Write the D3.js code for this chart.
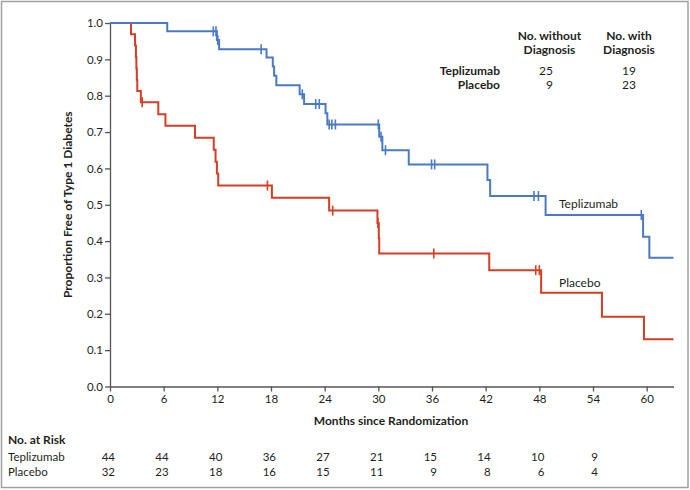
<!DOCTYPE html>
<html><head><meta charset="utf-8">
<script src="https://cdn.jsdelivr.net/npm/d3@7"></script>
<style>body{margin:0;background:#fff}svg{display:block;font-family:Lato,"Open Sans",sans-serif}</style>
</head><body>
<svg id="c" width="690" height="490"></svg>
<script>
// Data
const xTicks = [0,6,12,18,24,30,36,42,48,54,60];
const yTicks = [0,0.1,0.2,0.3,0.4,0.5,0.6,0.7,0.8,0.9,1.0];
const teplizumabEventTimes = [6.4,11.95,12.2,17.5,18.2,18.35,18.6,21.2,21.7,24.1,24.3,30.1,30.45,33.4,42.2,42.5,48.7,59.6,60.3];
const teplizumabSurvival   = [0.977,0.953,0.928,0.905,0.880,0.855,0.829,0.804,0.777,0.752,0.721,0.687,0.650,0.611,0.568,0.524,0.472,0.412,0.354];
const teplizumabCensored   = [11.55,11.85,12.05,16.9,21.5,23.0,23.4,24.5,24.8,25.2,30.0,30.3,30.8,35.95,36.3,47.4,47.9,59.4];
const placeboEventTimes = [2.35,2.8,2.9,2.95,3.0,3.05,3.45,5.4,6.2,9.5,11.6,11.8,11.95,12.1,18.1,24.5,29.9,30.05,30.1,42.4,48.2,55.0,59.7];
const placeboSurvival   = [0.969,0.938,0.906,0.875,0.844,0.813,0.782,0.749,0.717,0.684,0.651,0.618,0.586,0.553,0.519,0.484,0.450,0.408,0.366,0.320,0.258,0.192,0.130];
const placeboCensored   = [3.6,17.6,24.9,29.95,36.2,47.6,48.0];
const followUpEnd = 63;
const groups = ["Teplizumab","Placebo"];
const noWithoutDiagnosis = [25,9];
const noWithDiagnosis = [19,23];
const atRiskTeplizumab = [44,44,40,36,27,21,15,14,10,9];
const atRiskPlacebo    = [32,23,18,16,15,11,9,8,6,4];

const svg = d3.select("#c");
const x = d3.scaleLinear().domain([0,63]).range([110,673.5]);
const y = d3.scaleLinear().domain([0,1]).range([386.5,23]);
const axisColor = "#555";
const txt = "#231f20";

// border
svg.append("rect").attr("x",1.5).attr("y",1.5).attr("width",686.5).attr("height",486)
  .attr("fill","none").attr("stroke","#a0a0a0").attr("stroke-width",1.5);

// axes
const xa = svg.append("g").attr("transform",`translate(0,${y(0)})`)
  .call(d3.axisBottom(x).tickValues(xTicks).tickSize(5).tickSizeOuter(0).tickPadding(3));
const ya = svg.append("g").attr("transform",`translate(${x(0)},0)`)
  .call(d3.axisLeft(y).tickValues(yTicks).tickSize(5).tickSizeOuter(0).tickPadding(2).tickFormat(d3.format(".1f")));
[xa,ya].forEach(a=>{
  a.selectAll("path,line").attr("stroke",axisColor).attr("stroke-width",1.3);
  a.selectAll("text").attr("fill",txt).style("font-size","11.5px").style("font-family","Lato,sans-serif");
});

// step curves
function stepPoints(times, surv){
  const pts=[[0,1]];
  times.forEach((t,i)=>{ pts.push([t,i===0?1:surv[i-1]]); pts.push([t,surv[i]]); });
  pts.push([followUpEnd, surv[surv.length-1]]);
  return pts;
}
function survAt(times,surv,t){ let s=1; times.forEach((tt,i)=>{ if(tt<=t) s=surv[i]; }); return s; }
const line = d3.line().x(d=>x(d[0])).y(d=>y(d[1]));
const series = [
  {times:teplizumabEventTimes, surv:teplizumabSurvival, cens:teplizumabCensored, color:"#4a7ac4"},
  {times:placeboEventTimes, surv:placeboSurvival, cens:placeboCensored, color:"#d53e24"}
];
series.slice().reverse().forEach(s=>{
  svg.append("path").attr("d",line(stepPoints(s.times,s.surv))).attr("fill","none")
    .attr("stroke",s.color).attr("stroke-width",2);
  svg.selectAll(null).data(s.cens).enter().append("line")
    .attr("x1",d=>x(d)).attr("x2",d=>x(d))
    .attr("y1",d=>y(survAt(s.times,s.surv,d))-5).attr("y2",d=>y(survAt(s.times,s.surv,d))+5)
    .attr("stroke",s.color).attr("stroke-width",1.6);
});

// series labels
svg.append("text").attr("x",559).attr("y",208).text("Teplizumab").attr("fill",txt).style("font-size","12px");
svg.append("text").attr("x",559).attr("y",287).text("Placebo").attr("fill",txt).style("font-size","12px");

// axis titles
svg.append("text").attr("x",391).attr("y",425).attr("text-anchor","middle").attr("font-weight","bold")
  .attr("fill",txt).style("font-size","12px").text("Months since Randomization");
svg.append("text").attr("transform",`translate(72,${(y(0)+y(1))/2}) rotate(-90)`).attr("text-anchor","middle")
  .attr("font-weight","bold").attr("fill",txt).style("font-size","12px").text("Proportion Free of Type 1 Diabetes");

// top-right table
const th = svg.append("g").attr("font-weight","bold").attr("fill",txt).style("font-size","12px").attr("text-anchor","middle");
th.append("text").attr("x",549.5).attr("y",40).text("No. without");
th.append("text").attr("x",549.5).attr("y",54).text("Diagnosis");
th.append("text").attr("x",629).attr("y",40).text("No. with");
th.append("text").attr("x",629).attr("y",54).text("Diagnosis");
groups.forEach((g,i)=>{
  const yy = 75 + i*14;
  svg.append("text").attr("x",500).attr("y",yy).attr("text-anchor","end").attr("font-weight","bold")
    .attr("fill",txt).style("font-size","12px").text(g);
  svg.append("text").attr("x",553).attr("y",yy).attr("text-anchor","end")
    .attr("fill",txt).style("font-size","12px").text(noWithoutDiagnosis[i]);
  svg.append("text").attr("x",629).attr("y",yy).attr("text-anchor","middle")
    .attr("fill",txt).style("font-size","12px").text(noWithDiagnosis[i]);
});

// number at risk
svg.append("text").attr("x",8).attr("y",444).attr("font-weight","bold").attr("fill",txt)
  .style("font-size","12px").text("No. at Risk");
[atRiskTeplizumab, atRiskPlacebo].forEach((arr,i)=>{
  const yy = 461 + i*15;
  svg.append("text").attr("x",8).attr("y",yy).attr("fill",txt).style("font-size","11.5px").text(groups[i]);
  svg.selectAll(null).data(arr).enter().append("text")
    .attr("x",(d,j)=>x(xTicks[j])+5).attr("y",yy).attr("text-anchor","end")
    .attr("fill",txt).style("font-size","11.5px").text(d=>d);
});
</script>
</body></html>
